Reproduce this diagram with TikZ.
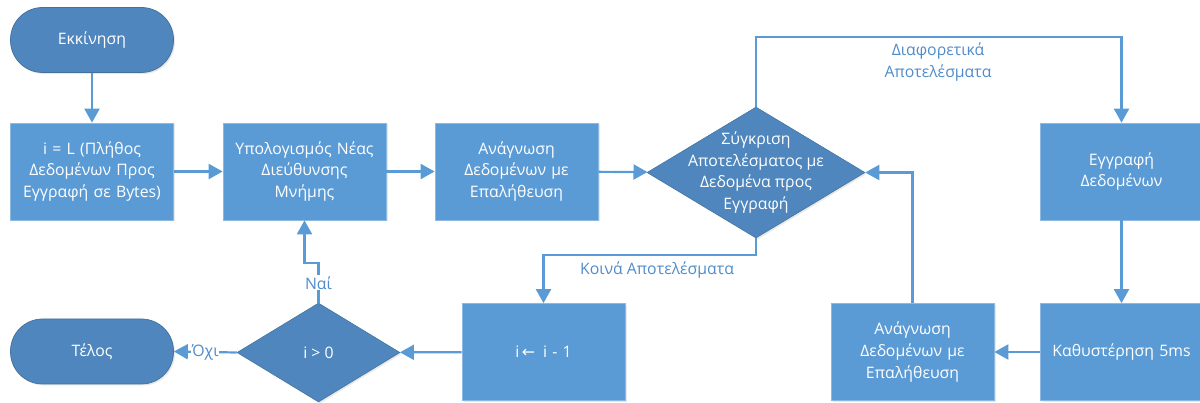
\documentclass[tikz,border=0pt]{standalone}
\usepackage{fontspec}
\setmainfont{Open Sans}
\newfontfamily\symfont{DejaVu Sans}
\usetikzlibrary{arrows.meta,shapes.geometric,shadows}

\definecolor{procblue}{HTML}{5B9BD5}
\definecolor{procedge}{HTML}{8DB8E2}
\definecolor{darkblue}{HTML}{4E86BD}
\definecolor{darkedge}{HTML}{41719C}
\definecolor{lineblue}{HTML}{5B9BD5}
\definecolor{labelblue}{HTML}{4F8CC9}

\begin{document}
\begin{tikzpicture}[x=1pt,y=-1pt,
  txt/.style={font=\fontsize{15.8}{21.7}\selectfont},
  proc/.style={txt, rectangle, fill=procblue, draw=procedge, line width=0.7pt,
    minimum width=163pt, minimum height=97pt, text width=160pt, align=center,
    text=white, inner sep=0pt,
    drop shadow={shadow xshift=1.5pt, shadow yshift=-1.5pt, opacity=0.18}},
  term/.style={txt, rectangle, rounded corners=32pt, fill=darkblue, draw=darkedge,
    line width=0.7pt, minimum width=163pt, minimum height=65pt, text=white,
    drop shadow={shadow xshift=1.5pt, shadow yshift=-1.5pt, opacity=0.18}},
  decision/.style={diamond, fill=darkblue, draw=darkedge, line width=0.5pt,
    inner sep=0pt,
    drop shadow={shadow xshift=1.5pt, shadow yshift=-1.5pt, opacity=0.18}},
  dectext/.style={txt, align=center, text=white, inner sep=0pt},
  conn/.style={draw=lineblue, line width=2.2pt,
    -{Triangle[width=15pt,length=14pt]}},
  lbl/.style={txt, text=labelblue, align=center, inner sep=1pt}]

\useasboundingbox (0,0) rectangle (1200,403);

% top row
\node[term] (start) at (92,40) {Εκκίνηση};
\node[proc] (init) at (92,171.5) {i = L (Πλήθος\\Δεδομένων Προς\\Εγγραφή σε Bytes)};
\node[proc] (addr) at (304.5,171.5) {Υπολογισμός Νέας\\Διεύθυνσης\\Μνήμης};
\node[proc] (read1) at (516.5,171.5) {Ανάγνωση\\Δεδομένων με\\Επαλήθευση};
\node[decision, minimum width=218pt, minimum height=131pt] (cmp) at (756,172.5) {};
\node[dectext] (cmptext) at (cmp) {Σύγκριση\\Αποτελέσματος με\\Δεδομένα προς\\Εγγραφή};
\node[proc] (write) at (1121.5,171.5) {Εγγραφή\\Δεδομένων};

% bottom row
\node[term] (end) at (92,351.5) {Τέλος};
\node[decision, minimum width=163pt, minimum height=99pt] (test) at (318.5,352.5) {};
\node[dectext] (testtext) at (test) {i > 0};
\node[proc] (dec) at (543.5,352) {i{\symfont\,←}\, i - 1};
\node[proc] (read2) at (912.5,352) {Ανάγνωση\\Δεδομένων με\\Επαλήθευση};
\node[proc] (delay) at (1121.5,352) {Καθυστέρηση 5ms};

% connectors
\draw[conn] (start) -- (init);
\draw[conn] (init) -- (addr);
\draw[conn] (addr) -- (read1);
\draw[conn] (read1) -- (cmp);
\draw[conn] (cmp.north) -- ++(0,-70) -| (write.north);
\node[lbl] (difflbl) at (938,62) {Διαφορετικά\\Αποτελέσματα};
\draw[conn] (write) -- (delay);
\draw[conn] (delay) -- (read2);
\draw[conn] (read2.north) |- (cmp.east);
\draw[conn] (cmp.south) -- ++(0,17) -| (dec.north);
\node[lbl] (samelbl) at (657,270) {Κοινά Αποτελέσματα};
\draw[conn] (dec) -- (test);
\draw[conn] (test.north) -- node[lbl, fill=white] (yes) {Ναί} ++(0,-40) -| (addr.south);
\draw[conn] (test.west) -- node[lbl, fill=white, inner sep=0.5pt] (no) {Όχι} (end.east);

\end{tikzpicture}
\end{document}
